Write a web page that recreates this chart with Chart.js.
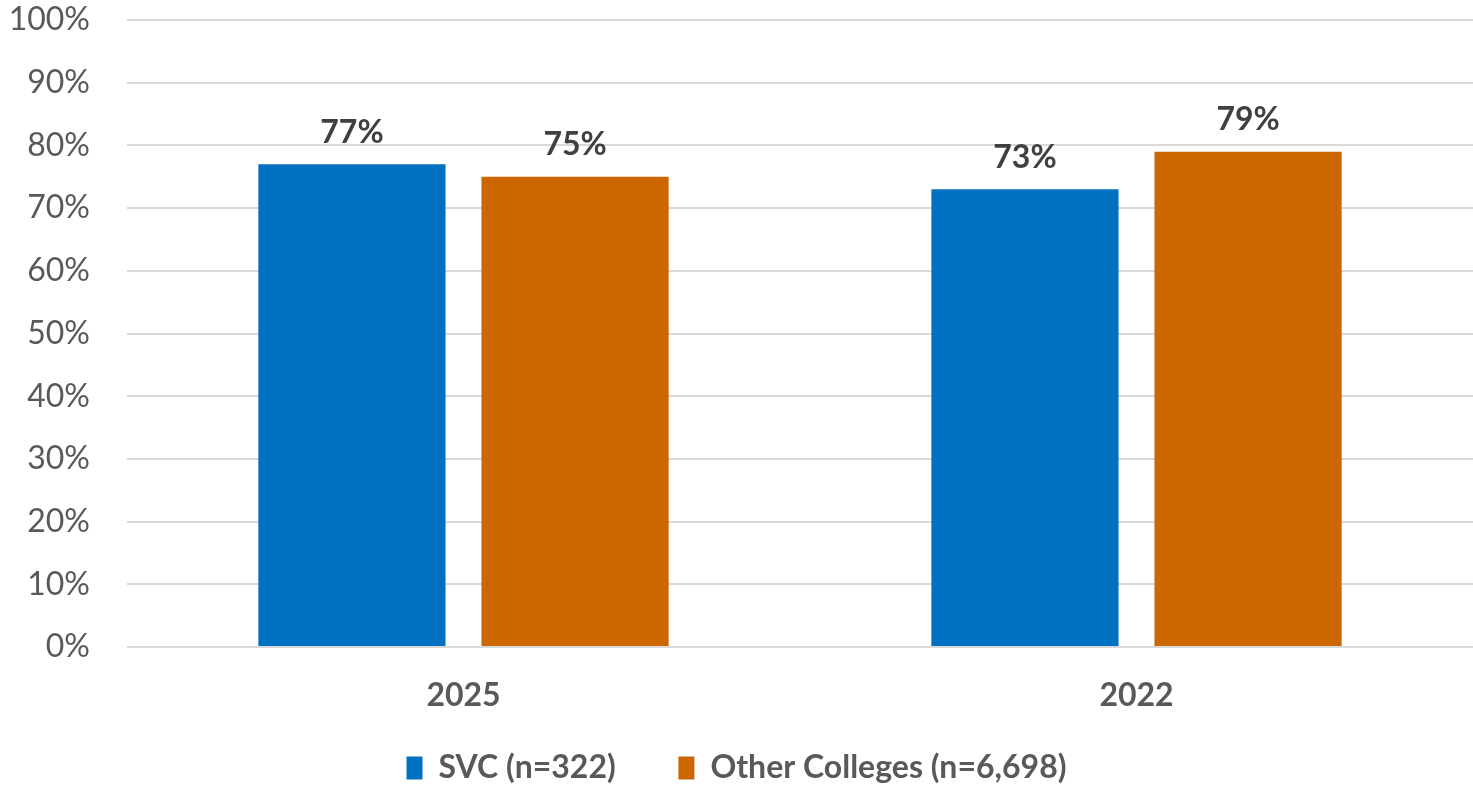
<!DOCTYPE html>
<html>
<head>
<meta charset="utf-8">
<script src="https://cdn.jsdelivr.net/npm/chart.js@4/dist/chart.umd.min.js"></script>
<style>
  html, body { margin: 0; padding: 0; background: #fff; }
  #wrap { width: 1473px; height: 786px; }
</style>
</head>
<body>
<div id="wrap"><canvas id="myChart"></canvas></div>
<script>
const years = ['2025', '2022'];
const svcValues = [77, 73];
const otherValues = [75, 79];
const seriesNames = ['SVC (n=322)', 'Other Colleges (n=6,698)'];
const yTicks = [0, 10, 20, 30, 40, 50, 60, 70, 80, 90, 100];

const FONT = 'Lato, "Open Sans", sans-serif';

// print the value above each bar
const barLabels = {
  id: 'barLabels',
  afterDatasetsDraw(chart) {
    const c = chart.ctx;
    c.save();
    c.font = 'bold 32px ' + FONT;
    c.fillStyle = '#404040';
    c.textAlign = 'center';
    c.textBaseline = 'bottom';
    chart.data.datasets.forEach((ds, i) => {
      chart.getDatasetMeta(i).data.forEach((bar, j) => {
        c.fillText(ds.data[j] + '%', bar.x, bar.y - 16);
      });
    });
    c.restore();
  }
};

const ctx = document.getElementById('myChart').getContext('2d');
const chart = new Chart(ctx, {
  type: 'bar',
  data: {
    labels: years,
    datasets: [{
      label: seriesNames[0],
      data: svcValues,
      backgroundColor: '#0070C0'
    }, {
      label: seriesNames[1],
      data: otherValues,
      backgroundColor: '#CC6600'
    }]
  },
  options: {
    responsive: true,
    maintainAspectRatio: false,
    animation: false,
    categoryPercentage: 0.663,
    barPercentage: 0.839,
    layout: { padding: { top: 0, right: 0, bottom: -8, left: 0 } },
    plugins: {
      legend: {
        position: 'bottom',
        labels: {
          color: '#595959',
          font: { family: FONT, size: 32, weight: 'bold' },
          boxWidth: 16,
          boxHeight: 23,
          padding: 16,
          // widen the gap between the two entries
          generateLabels(chart) {
            const items = Chart.defaults.plugins.legend.labels.generateLabels(chart);
            items.forEach((it, i) => {
              if (i < items.length - 1) it.text += '      ';
            });
            return items;
          }
        }
      },
      tooltip: { enabled: false }
    },
    scales: {
      x: {
        afterFit(scale) { scale.height = 89; },
        grid: { display: false, drawTicks: false },
        border: { display: false },
        ticks: {
          color: '#595959',
          font: { family: FONT, size: 32, weight: 'bold' },
          padding: 29
        }
      },
      y: {
        min: 0,
        max: 100,
        afterFit(scale) {
          scale.width = 127;
          scale.paddingTop = 20;
          scale.paddingBottom = 0;
        },
        afterBuildTicks(scale) { scale.ticks = yTicks.map(v => ({ value: v })); },
        grid: { color: '#D9D9D9', lineWidth: 2, drawTicks: false },
        border: { display: false },
        ticks: {
          color: '#595959',
          font: { family: FONT, size: 32 },
          padding: 37,
          callback: v => v + '%'
        }
      }
    }
  },
  plugins: [barLabels]
});
</script>
</body>
</html>
